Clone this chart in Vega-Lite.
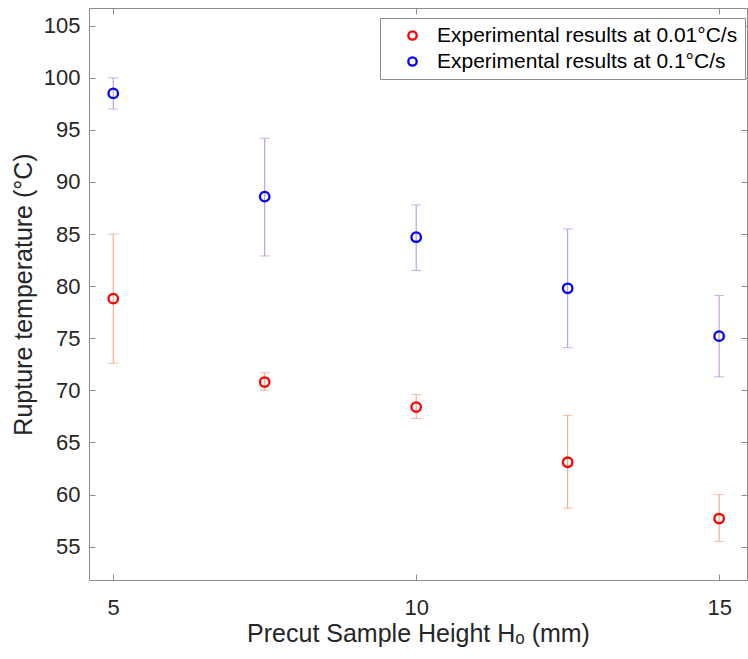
{
  "$schema": "https://vega.github.io/schema/vega-lite/v6.json",
  "width": 658,
  "height": 572,
  "autosize": "none",
  "padding": {"left": 89, "top": 8, "right": 1, "bottom": 79},
  "background": "white",
  "config": {
    "view": {"stroke": "#8c8c8c", "strokeWidth": 1},
    "font": "Liberation Sans"
  },
  "data": {
    "values": [
      {"h": 5, "T": 78.8, "lo": 72.6, "hi": 85.0, "series": "Experimental results at 0.01°C/s"},
      {"h": 7.5, "T": 70.8, "lo": 70.0, "hi": 71.7, "series": "Experimental results at 0.01°C/s"},
      {"h": 10, "T": 68.4, "lo": 67.3, "hi": 69.6, "series": "Experimental results at 0.01°C/s"},
      {"h": 12.5, "T": 63.1, "lo": 58.7, "hi": 67.6, "series": "Experimental results at 0.01°C/s"},
      {"h": 15, "T": 57.7, "lo": 55.5, "hi": 60.0, "series": "Experimental results at 0.01°C/s"},
      {"h": 5, "T": 98.5, "lo": 97.0, "hi": 100.0, "series": "Experimental results at 0.1°C/s"},
      {"h": 7.5, "T": 88.6, "lo": 82.9, "hi": 94.2, "series": "Experimental results at 0.1°C/s"},
      {"h": 10, "T": 84.7, "lo": 81.5, "hi": 87.8, "series": "Experimental results at 0.1°C/s"},
      {"h": 12.5, "T": 79.8, "lo": 74.1, "hi": 85.5, "series": "Experimental results at 0.1°C/s"},
      {"h": 15, "T": 75.2, "lo": 71.3, "hi": 79.1, "series": "Experimental results at 0.1°C/s"}
    ]
  },
  "layer": [
    {
      "mark": {"type": "rule", "strokeWidth": 1},
      "encoding": {
        "x": {"field": "h", "type": "quantitative", "scale": {"domain": [4.6, 15.46], "nice": false, "zero": false}, "axis": null},
        "y": {"field": "lo", "type": "quantitative", "scale": {"domain": [51.8, 106.7], "nice": false, "zero": false}, "axis": null},
        "y2": {"field": "hi"},
        "color": {"field": "series", "type": "nominal", "scale": {"domain": ["Experimental results at 0.01°C/s", "Experimental results at 0.1°C/s"], "range": ["#F0A085", "#B88ED6"]}, "legend": null}
      }
    },
    {
      "mark": {"type": "tick", "orient": "horizontal", "size": 10, "thickness": 1},
      "encoding": {
        "x": {"field": "h", "type": "quantitative", "scale": {"domain": [4.6, 15.46], "nice": false, "zero": false}, "axis": null},
        "y": {"field": "lo", "type": "quantitative", "scale": {"domain": [51.8, 106.7], "nice": false, "zero": false}, "axis": null},
        "color": {"field": "series", "type": "nominal", "scale": {"domain": ["Experimental results at 0.01°C/s", "Experimental results at 0.1°C/s"], "range": ["#F0A085", "#B88ED6"]}, "legend": null}
      }
    },
    {
      "mark": {"type": "tick", "orient": "horizontal", "size": 10, "thickness": 1},
      "encoding": {
        "x": {"field": "h", "type": "quantitative", "scale": {"domain": [4.6, 15.46], "nice": false, "zero": false}, "axis": null},
        "y": {"field": "hi", "type": "quantitative", "scale": {"domain": [51.8, 106.7], "nice": false, "zero": false}, "axis": null},
        "color": {"field": "series", "type": "nominal", "scale": {"domain": ["Experimental results at 0.01°C/s", "Experimental results at 0.1°C/s"], "range": ["#F0A085", "#B88ED6"]}, "legend": null}
      }
    },
    {
      "mark": {"type": "point", "filled": false, "strokeWidth": 2.3, "size": 90, "opacity": 1},
      "encoding": {
        "x": {
          "field": "h", "type": "quantitative",
          "scale": {"domain": [4.6, 15.46], "nice": false, "zero": false},
          "axis": {
            "values": [5, 10, 15], "tickSize": -6, "tickColor": "#8c8c8c", "domain": false, "grid": false,
            "labelFontSize": 22, "labelColor": "#262626", "labelPadding": 23,
            "title": "Precut Sample Height Hₒ (mm)", "titleFontSize": 25, "titleFontWeight": "normal", "titleColor": "#262626", "titlePadding": 3
          }
        },
        "y": {
          "field": "T", "type": "quantitative",
          "scale": {"domain": [51.8, 106.7], "nice": false, "zero": false},
          "axis": {
            "values": [55, 60, 65, 70, 75, 80, 85, 90, 95, 100, 105], "tickSize": -6, "tickColor": "#8c8c8c", "domain": false, "grid": false,
            "labelFontSize": 22, "labelColor": "#262626", "labelPadding": 15,
            "title": "Rupture temperature (°C)", "titleFontSize": 25, "titleFontWeight": "normal", "titleColor": "#262626", "titlePadding": 7
          }
        },
        "color": {
          "field": "series", "type": "nominal",
          "scale": {"domain": ["Experimental results at 0.01°C/s", "Experimental results at 0.1°C/s"], "range": ["#FF0000", "#0000FF"]},
          "legend": {
            "title": null, "orient": "none", "legendX": 291, "legendY": 10,
            "strokeColor": "#8c8c8c", "fillColor": "white", "padding": 7, "symbolOffset": 15,
            "labelFontSize": 21, "labelColor": "#000000", "labelOffset": 14, "labelLimit": 500,
            "symbolType": "circle", "symbolSize": 70, "symbolStrokeWidth": 2.3, "rowPadding": 4
          }
        }
      }
    },
    {
      "mark": {"type": "point", "opacity": 0},
      "encoding": {
        "x": {
          "field": "h", "type": "quantitative",
          "scale": {"domain": [4.6, 15.46], "nice": false, "zero": false},
          "axis": {"orient": "top", "values": [5, 10, 15], "tickSize": -6, "tickColor": "#8c8c8c", "domain": false, "grid": false, "labels": false, "title": null}
        },
        "y": {
          "field": "T", "type": "quantitative",
          "scale": {"domain": [51.8, 106.7], "nice": false, "zero": false},
          "axis": {"orient": "right", "values": [55, 60, 65, 70, 75, 80, 85, 90, 95, 100, 105], "tickSize": -6, "tickColor": "#8c8c8c", "domain": false, "grid": false, "labels": false, "title": null}
        }
      }
    }
  ],
  "resolve": {
    "scale": {"color": "independent"},
    "axis": {"x": "independent", "y": "independent"}
  }
}
